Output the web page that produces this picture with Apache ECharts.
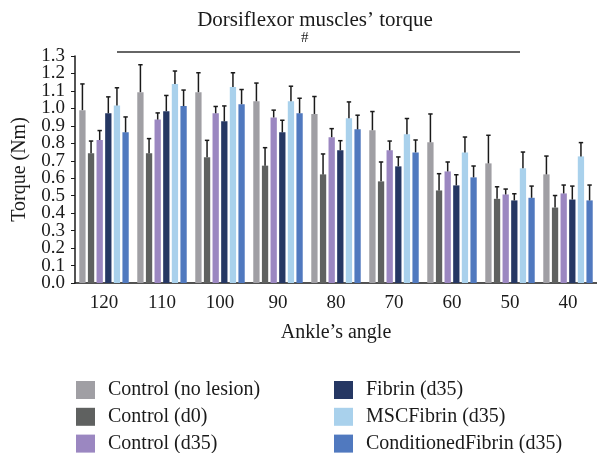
<!DOCTYPE html>
<html>
<head>
<meta charset="utf-8">
<script src="https://cdn.jsdelivr.net/npm/echarts@6/dist/echarts.min.js"></script>
<style>html,body{margin:0;padding:0;background:#fff;}#c{width:597px;height:453px;}</style>
</head>
<body>
<div id="c"></div>
<script>
var categories = ['120','110','100','90','80','70','60','50','40'];
var seriesNames = ['Control (no lesion)','Control (d0)','Control (d35)','Fibrin (d35)','MSCFibrin (d35)','ConditionedFibrin (d35)'];
var ctrlNoLesion = [0.99,1.093,1.093,1.041,0.968,0.875,0.806,0.685,0.622];
var ctrlD0       = [0.743,0.743,0.72,0.672,0.622,0.582,0.53,0.482,0.432];
var ctrlD35      = [0.819,0.936,0.972,0.948,0.835,0.76,0.639,0.507,0.513];
var fibrinD35    = [0.972,0.984,0.926,0.863,0.76,0.668,0.559,0.473,0.478];
var mscFibrinD35 = [1.017,1.139,1.122,1.041,0.944,0.852,0.748,0.657,0.725];
var condFibrinD35= [0.863,1.013,1.024,0.972,0.88,0.748,0.605,0.488,0.473];
var errCtrlNoLesion = [0.15,0.157,0.111,0.104,0.10,0.107,0.162,0.161,0.105];
var errCtrlD0       = [0.07,0.084,0.097,0.103,0.117,0.111,0.096,0.069,0.069];
var errCtrlD35      = [0.054,0.038,0.039,0.042,0.049,0.053,0.054,0.031,0.048];
var errFibrinD35    = [0.094,0.09,0.088,0.069,0.055,0.054,0.061,0.038,0.077];
var errMscFibrinD35 = [0.101,0.075,0.082,0.086,0.093,0.09,0.088,0.093,0.079];
var errCondFibrinD35= [0.088,0.092,0.084,0.086,0.081,0.071,0.065,0.067,0.088];
var yTickValues = [0,0.1,0.2,0.3,0.4,0.5,0.6,0.7,0.8,0.9,1.0,1.1,1.2,1.3];

var means = [ctrlNoLesion,ctrlD0,ctrlD35,fibrinD35,mscFibrinD35,condFibrinD35];
var errs = [errCtrlNoLesion,errCtrlD0,errCtrlD35,errFibrinD35,errMscFibrinD35,errCondFibrinD35];
var colors = ['#a09fa4','#5f6160','#9b87c1','#253763','#a9d1ec','#5079bf'];
var FONT = '"Liberation Serif", "DejaVu Serif", serif';
var TXT = '#1a1a1a';
var BAR_W = 6.3, GAP = 0.37;
var pitch = BAR_W * (1 + GAP);

var series = [];
means.forEach(function (m, i) {
  series.push({
    name: seriesNames[i], type: 'bar', data: m,
    barWidth: BAR_W, barGap: (GAP * 100) + '%',
    itemStyle: { color: colors[i] }, z: 2
  });
});
means.forEach(function (m, i) {
  var data = m.map(function (v, k) { return [k, v, v + errs[i][k]]; });
  var off = (i - 2.5) * pitch;
  series.push({
    type: 'custom', data: data, z: 5, silent: true,
    renderItem: function (params, api) {
      var p0 = api.coord([api.value(0), api.value(1)]);
      var p1 = api.coord([api.value(0), api.value(2)]);
      var x = p0[0] + off;
      var st = { stroke: '#1a1a1a', lineWidth: 1.5 };
      return { type: 'group', children: [
        { type: 'line', shape: { x1: x, y1: p0[1], x2: x, y2: p1[1] }, style: st },
        { type: 'line', shape: { x1: x - 2.2, y1: p1[1], x2: x + 2.2, y2: p1[1] }, style: st }
      ]};
    }
  });
});
// y-axis tick labels (drawn via the axis scale so none get auto-hidden)
series.push({
  type: 'custom', silent: true, z: 6, clip: false,
  data: yTickValues.map(function (v) { return [0, v]; }),
  renderItem: function (params, api) {
    var p = api.coord([0, api.value(1)]);
    var band = api.size([1, 0])[0];
    return {
      type: 'text', x: p[0] - band / 2 - 10, y: p[1],
      style: { text: api.value(1).toFixed(1), font: '19px ' + FONT, fill: TXT,
               align: 'right', verticalAlign: 'middle' }
    };
  }
});

var legends = seriesNames.map(function (n, i) {
  return {
    data: [n], left: i < 3 ? 76 : 334, top: 380 + (i % 3) * 26.8,
    itemWidth: 19, itemHeight: 18, icon: 'rect', padding: 0,
    textStyle: { fontFamily: FONT, fontSize: 20, color: TXT, padding: [0, 0, 0, 8] }
  };
});

var chart = echarts.init(document.getElementById('c'));
chart.setOption({
  animation: false,
  textStyle: { fontFamily: FONT, color: TXT },
  title: {
    text: "Dorsiflexor muscles\u2019 torque", left: 310, top: 5, textAlign: 'center',
    textStyle: { fontFamily: FONT, fontSize: 21, fontWeight: 'normal', color: TXT }
  },
  graphic: [
    { type: 'text', left: 301, top: 31, style: { text: '#', font: '15px ' + FONT, fill: TXT } },
    { type: 'line', shape: { x1: 117, y1: 52, x2: 520, y2: 52 }, style: { stroke: '#333', lineWidth: 1.5 } }
  ],
  grid: { left: 75, right: -3, top: 56, bottom: 170, containLabel: false },
  legend: legends,
  xAxis: {
    type: 'category', data: categories,
    name: "Ankle\u2019s angle", nameLocation: 'middle', nameGap: 40,
    nameTextStyle: { fontFamily: FONT, fontSize: 20, color: TXT },
    axisLine: { lineStyle: { color: '#1a1a1a', width: 1.5 } },
    axisTick: { alignWithLabel: true, length: 4, lineStyle: { color: '#1a1a1a' } },
    axisLabel: { fontFamily: FONT, fontSize: 19, color: TXT, margin: 11 }
  },
  yAxis: {
    type: 'value', min: 0, max: 1.3, interval: 0.1,
    name: 'Torque (Nm)', nameLocation: 'middle', nameGap: 45,
    nameTextStyle: { fontFamily: FONT, fontSize: 20, color: TXT },
    axisLine: { show: true, lineStyle: { color: '#1a1a1a', width: 1.5 } },
    axisTick: { show: true, length: 4, lineStyle: { color: '#1a1a1a' } },
    splitLine: { show: false },
    axisLabel: { show: false }
  },
  series: series
});
</script>
</body>
</html>
